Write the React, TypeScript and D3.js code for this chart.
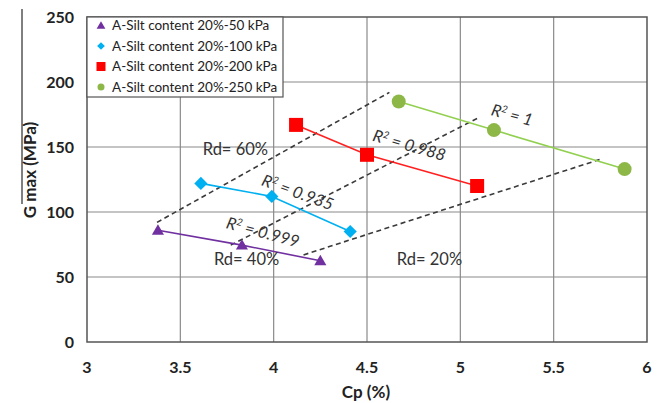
import React from "react";
import * as d3 from "d3";

const xTicks = [3, 3.5, 4, 4.5, 5, 5.5, 6];
const yTicks = [0, 50, 100, 150, 200, 250];

const cp50 = [3.38, 3.83, 4.25];
const g50 = [86, 74.5, 62.5];
const cp100 = [3.61, 3.99, 4.41];
const g100 = [122, 112, 85];
const cp200 = [4.12, 4.5, 5.09];
const g200 = [167, 144, 120];
const cp250 = [4.67, 5.18, 5.88];
const g250 = [185, 163, 133];

const seriesNames = [
  "A-Silt content 20%-50 kPa",
  "A-Silt content 20%-100 kPa",
  "A-Silt content 20%-200 kPa",
  "A-Silt content 20%-250 kPa",
];

const rdLabels = ["Rd= 60%", "Rd= 40%", "Rd= 20%"];
const rdLineX = [[3.375, 4.62], [3.77, 5.09], [4.16, 5.76]];
const rdLineY = [[92, 192], [74.5, 172], [67, 141]];
const rdTextX = [3.62, 3.68, 4.66];
const rdTextY = [144, 59, 59];

const r2Values = ["0.999", "0.935", "0.988", "1"];
const r2TextX = [3.74, 3.93, 4.525, 5.16];
const r2TextY = [87.7, 120.8, 155, 174.6];
const r2Angle = [15, 20, 16, 15];

const W = 669, H = 403;
const L = 87, R = 647, T = 17, B = 342;

export default function App() {
  const x = d3.scaleLinear().domain([3, 6]).range([L, R]);
  const y = d3.scaleLinear().domain([0, 250]).range([B, T]);
  const line = d3.line<[number, number]>().x(d => x(d[0])).y(d => y(d[1]));
  const font = "Lato, 'Open Sans', sans-serif";

  const series = [
    { cx: cp50, gy: g50, color: "#7030A0", mcolor: "#7030A0", shape: "tri" },
    { cx: cp100, gy: g100, color: "#00B0F0", mcolor: "#00B0F0", shape: "dia" },
    { cx: cp200, gy: g200, color: "#FF2020", mcolor: "#FF0000", shape: "sq" },
    { cx: cp250, gy: g250, color: "#92D050", mcolor: "#8DB848", shape: "circ" },
  ];

  const marker = (shape: string, px: number, py: number, color: string, s: number, key: any) => {
    if (shape === "tri") {
      const h = s * 0.9;
      return <path key={key} d={`M${px},${py - h * 0.6} L${px + s * 0.55},${py + h * 0.45} L${px - s * 0.55},${py + h * 0.45} Z`} fill={color} />;
    }
    if (shape === "dia") {
      const r = s * 0.55;
      return <path key={key} d={`M${px},${py - r} L${px + r},${py} L${px},${py + r} L${px - r},${py} Z`} fill={color} />;
    }
    if (shape === "sq") {
      return <rect key={key} x={px - s / 2} y={py - s / 2} width={s} height={s} fill={color} />;
    }
    return <circle key={key} cx={px} cy={py} r={s / 2} fill={color} />;
  };

  const dataSizes = [11, 12, 14, 14];
  const legendSizes = [8, 7, 9, 7];

  return (
    <svg width={W} height={H} style={{ position: "absolute", left: 0, top: 0, background: "#fff" }} fontFamily={font}>
      <rect x={0} y={0} width={W} height={H} fill="#fff" />
      {/* grid */}
      {xTicks.slice(1, -1).map(t => (
        <line key={"gx" + t} x1={x(t)} x2={x(t)} y1={T} y2={B} stroke="#8a8a8a" strokeWidth={1.2} />
      ))}
      {yTicks.slice(1, -1).map(t => (
        <line key={"gy" + t} x1={L} x2={R} y1={y(t)} y2={y(t)} stroke="#8a8a8a" strokeWidth={1.2} />
      ))}
      <rect x={L} y={T} width={R - L} height={B - T} fill="none" stroke="#555" strokeWidth={1.5} />

      {/* Rd dashed lines */}
      {rdLineX.map((xs, i) => (
        <path key={"rd" + i} d={line(xs.map((v, j) => [v, rdLineY[i][j]] as [number, number])) || ""}
          fill="none" stroke="#3a3a3a" strokeWidth={1.6} strokeDasharray="5,3.5" />
      ))}

      {/* series */}
      {series.map((s, i) => (
        <g key={"s" + i}>
          <path d={line(s.cx.map((v, j) => [v, s.gy[j]] as [number, number])) || ""} fill="none" stroke={s.color} strokeWidth={1.6} />
          {s.cx.map((v, j) => marker(s.shape, x(v), y(s.gy[j]), s.mcolor, dataSizes[i], j))}
        </g>
      ))}

      {/* Rd labels */}
      {rdLabels.map((t, i) => (
        <text key={"rdl" + i} x={x(rdTextX[i])} y={y(rdTextY[i])} fontSize={16.5} fill="#333">{t}</text>
      ))}

      {/* R2 labels */}
      {r2Values.map((v, i) => (
        <text key={"r2" + i} x={x(r2TextX[i])} y={y(r2TextY[i])} fontSize={16.5} fontStyle="italic" fill="#333"
          transform={`rotate(${r2Angle[i]},${x(r2TextX[i])},${y(r2TextY[i])})`}>
          R<tspan dy={-6} fontSize={10}>2</tspan><tspan dy={6}> = {v}</tspan>
        </text>
      ))}

      {/* legend */}
      <rect x={L} y={T} width={196} height={80} fill="#fff" stroke="#555" strokeWidth={1.2} />
      {seriesNames.map((n, i) => (
        <g key={"lg" + i}>
          {marker(series[i].shape, 101, 25.5 + i * 20.5, series[i].mcolor, legendSizes[i], "m")}
          <text x={112} y={30 + i * 20.5} fontSize={13.5} fill="#222">{n}</text>
        </g>
      ))}

      {/* ticks */}
      {yTicks.map(t => (
        <text key={"yt" + t} x={74} y={y(t) + 5.5} textAnchor="end" fontSize={16} fontWeight="bold" fill="#222">{t}</text>
      ))}
      {xTicks.map(t => (
        <text key={"xt" + t} x={x(t)} y={373} textAnchor="middle" fontSize={16} fontWeight="bold" fill="#222">{t}</text>
      ))}

      {/* axis titles */}
      <text x={366} y={398} textAnchor="middle" fontSize={17} fontWeight="bold" fill="#222">Cp (%)</text>
      <text transform={`translate(36,170) rotate(-90)`} textAnchor="middle" fontSize={17} fontWeight="bold" fill="#222">G max (MPa)</text>
      <line x1={22} x2={22} y1={9} y2={204} stroke="#000" strokeWidth={1} />
    </svg>
  );
}
